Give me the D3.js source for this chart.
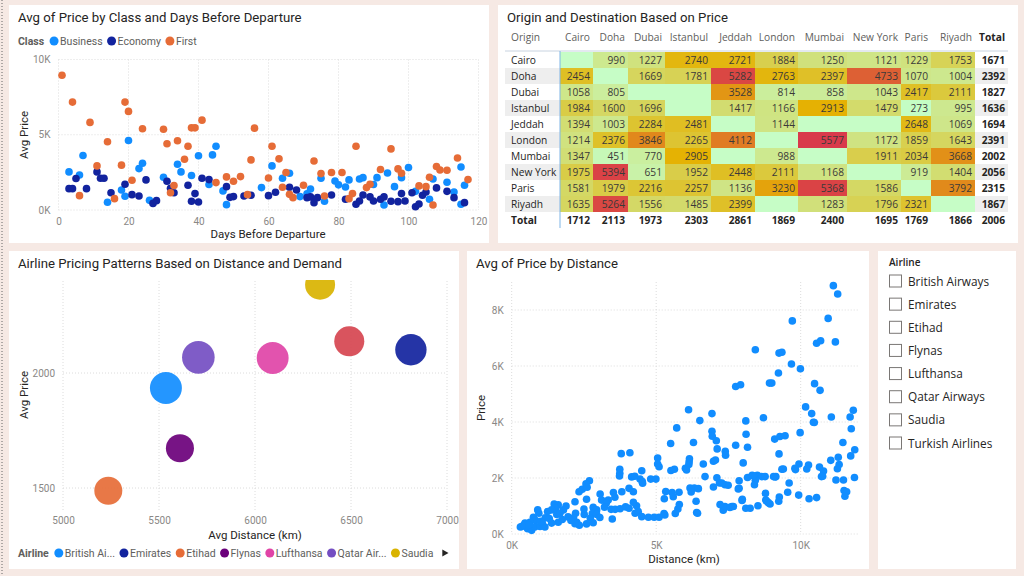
<!DOCTYPE html>
<html>
<head>
<meta charset="utf-8">
<script src="https://cdn.jsdelivr.net/npm/d3@7"></script>
<style>
body { margin: 0; background: #f6e9e4; }
svg { display: block; }
text { font-family: Roboto, "Open Sans", sans-serif; }
.seg text { font-family: "Open Sans", "Noto Sans", sans-serif; }
</style>
</head>
<body>
<svg id="dash" width="1024" height="576"></svg>
<script>
// ---- data: class scatter (days before departure, avg price)
var classNames = ["Business", "Economy", "First"];
var businessPts = [[3,2530],[6,2330],[7,3620],[20,4620],[23,2750],[24,3110],[18,1330],[19,910],[14,510],[30,2180],[34,3040],[35,2530],[38,2290],[40,3600],[44,3660],[45,4240],[43,1690],[47,1270],[48,355],[26,640],[58,1490],[61,2930],[64,2110],[66,2440],[69,890],[71,1070],[72,1400],[75,2110],[76,580],[79,1930],[80,1670],[82,1530],[83,2000],[86,2060],[87,2150],[90,1690],[91,2150],[94,2460],[93,330],[96,1550],[98,2150],[100,2820],[102,1240],[106,710],[107,2060],[111,1840],[113,1200],[115,380],[115,2860],[116,1640]];
var economyPts = [[3,1420],[4,1420],[5,2090],[8,1420],[11,2530],[12,2110],[13,2110],[15,1150],[19,1710],[21,1020],[23,930],[25,2000],[27,440],[28,620],[31,1910],[32,1440],[33,1150],[37,1640],[39,1090],[38,580],[40,530],[41,2110],[43,2020],[48,1550],[49,840],[50,890],[53,930],[55,980],[60,955],[62,1180],[66,1510],[68,1330],[71,820],[72,870],[73,490],[74,820],[78,1000],[82,710],[85,380],[86,600],[87,1000],[89,870],[90,600],[92,710],[93,870],[95,580],[97,555],[98,1090],[99,600],[101,1150],[102,220],[103,400],[104,980],[105,1200],[108,1470],[111,1240],[113,820],[116,490]];
var firstPts = [[1,8950],[4,7170],[9,5820],[14,4530],[11,2930],[19,7170],[20,6550],[18,2980],[21,1980],[6,955],[16,755],[24,5400],[30,5370],[31,4400],[34,4600],[37,4240],[36,3370],[33,1620],[32,1150],[38,5460],[39,5460],[41,5970],[48,2200],[50,1910],[52,2220],[55,3330],[56,5440],[54,1020],[45,1820],[60,2130],[61,4240],[63,3400],[65,2490],[64,1510],[66,1040],[67,820],[70,1640],[73,3260],[75,2420],[76,930],[78,2490],[81,2490],[83,755],[84,1090],[85,4240],[88,1490],[89,1710],[92,2690],[95,4060],[97,2730],[98,2440],[103,1600],[105,1550],[106,2180],[107,330],[108,2890],[109,2660],[111,2640],[114,3460],[117,2020]];
var classTicksY = [0, 5000, 10000];
var classTicksX = [0, 20, 40, 60, 80, 100, 120];

// ---- data: origin / destination matrix
var origins = ["Cairo","Doha","Dubai","Istanbul","Jeddah","London","Mumbai","New York","Paris","Riyadh"];
var destinations = ["Cairo","Doha","Dubai","Istanbul","Jeddah","London","Mumbai","New York","Paris","Riyadh"];
var priceMatrix = [
  [null, 990, 1227, 2740, 2721, 1884, 1250, 1121, 1229, 1753],
  [2454, null, 1669, 1781, 5282, 2763, 2397, 4733, 1070, 1004],
  [1058, 805, null, null, 3528, 814, 858, 1043, 2417, 2111],
  [1984, 1600, 1696, null, 1417, 1166, 2913, 1479, 273, 995],
  [1394, 1003, 2284, 2481, null, 1144, null, null, 2648, 1069],
  [1214, 2376, 3846, 2265, 4112, null, 5577, 1172, 1859, 1643],
  [1347, 451, 770, 2905, null, 988, null, 1911, 2034, 3668],
  [1975, 5394, 651, 1952, 2448, 2111, 1168, null, 919, 1404],
  [1581, 1979, 2216, 2257, 1136, 3230, 5368, 1586, null, 3792],
  [1635, 5264, 1556, 1485, 2399, null, 1283, 1796, 2321, null]
];
var rowTotals = [1671, 2392, 1827, 1636, 1694, 2391, 2002, 2056, 2315, 1867];
var colTotals = [1712, 2113, 1973, 2303, 2861, 1869, 2400, 1695, 1769, 1866];
var grandTotal = 2006;

// ---- data: airline bubbles
var airlines = ["British Airways","Emirates","Etihad","Flynas","Lufthansa","Qatar Airways","Saudia","Turkish Airlines"];
var airlineLegend = ["British Ai...","Emirates","Etihad","Flynas","Lufthansa","Qatar Air...","Saudia"];
var avgDistance = [5536, 6812, 5236, 5609, 6092, 5705, 6339, 6491];
var avgPrice = [1935, 2101, 1488, 1673, 2065, 2068, 2384, 2138];
var demand = [1280, 1230, 980, 985, 1275, 1330, 1125, 1130];
var bubbleTicksX = [5000, 5500, 6000, 6500, 7000];
var bubbleTicksY = [1500, 2000];

// ---- data: price by distance (km, price)
var distancePts = [
[11130,8870],[11280,8570],[10950,7700],[11200,6860],[10550,6810],[10690,6900],[10480,5370],[10670,5130],[10170,4540],[10380,4300],
[10440,3990],[10470,3980],[11060,4180],[11820,4420],[11710,4180],[11750,3760],[11460,3270],[11870,3010],[11730,2790],[11040,2630],
[11300,2740],[11330,2480],[11270,2330],[9980,3620],[9940,2500],[10270,2460],[10210,2320],[10650,2390],[10790,2250],[10720,2050],
[11220,1930],[11480,1930],[11860,2020],[11500,1550],[11590,1510],[11530,1350],[9930,1390],[10290,1260],[10550,1300],[9820,2300],
[9710,7610],[9990,5900],[9680,6070],[9250,6460],[9350,6490],[9230,5750],[8920,5390],[9000,5390],[8430,6580],[8710,4150],
[9100,3390],[9280,3480],[9460,3510],[9250,2860],[9350,2310],[9120,2040],[9600,1820],[9550,1490],[9260,1320],[9240,1170],
[8780,1450],[8790,1210],[8880,1120],[7750,5270],[7920,5330],[8100,4040],[8110,3560],[8160,3100],[7750,3170],[8010,2540],
[7870,1900],[8160,2020],[8320,2100],[8500,2100],[8650,2050],[8430,1920],[8400,1760],[7870,1630],[7970,1200],[8100,920],
[8250,920],[8520,1010],[7620,980],[7320,850],[7380,980],[7210,1050],[9140,2050],[9800,2350],[10760,2060],[9400,2320],
[6120,4440],[6930,4300],[6510,4050],[6930,3670],[6940,3490],[7080,3330],[7110,3040],[7390,2950],[7400,2810],[6290,3270],
[6150,2690],[6140,2580],[5500,3230],[5710,3790],[6010,2350],[6130,2480],[6980,2600],[7050,2640],[6630,2500],[6690,2050],
[7100,2010],[7190,1820],[7380,1760],[7490,1740],[6980,1680],[6170,1640],[6320,1640],[6460,1620],[6210,1500],[6380,1170],
[6400,770],[6430,740],[5800,1050],[5750,890],[5550,1480],[5790,1490],[5280,1260],[5330,1520],[5510,2270],[5630,2310],
[5050,2710],[5050,2500],[5100,2400],[4810,1960],[4990,1960],[5270,730],[5660,730],[4440,1960],[4530,1810],[4500,2260],
[4150,2040],[4260,2060],[3740,2310],[3740,2170],[3730,2070],[3790,2870],[4090,2900],[5300,680],[7550,950],[7670,980],
[8820,1180],[5590,1330],[6050,2290],[7270,1820],[8360,2080],[8770,2050],[7840,1610],[7980,1240],[8940,1070],[9060,2050],
[4520,1870],[2690,1900],[2570,1790],[2440,1600],[2610,1670],[2330,1510],[2590,1240],[3060,1430],[3340,1210],[3110,1210],
[3520,1480],[3810,1510],[4060,1630],[4210,1510],[3570,1310],[3270,1100],[3210,960],[3440,880],[3580,880],[3750,900],
[3940,970],[4060,920],[4320,1010],[4270,740],[4380,800],[4210,1130],[4500,620],[4730,600],[4930,600],[5100,600],
[3480,535],[2820,950],[2940,860],[2790,730],[2510,700],[2720,560],[2940,700],[3050,590],[2500,890],[2210,740],
[2190,1150],[1880,1000],[1790,860],[2140,580],[2250,420],[2340,310],[2190,370],[2590,360],[2820,400],[1610,1040],
[1470,1070],[1520,920],[1380,860],[1240,800],[1560,700],[1670,740],[900,860],[940,740],[1160,580],[1300,550],
[1610,420],[1380,390],[750,600],[830,480],[630,420],[460,390],[350,270],[300,250],[550,190],[690,130],
[800,250],[980,270],[1060,390],[1150,250],[1950,610],[2050,480],[1750,520],[420,320],[600,330],[1000,450]
];
var distTicksX = [0, 5000, 10000];
var distTicksY = [0, 2000, 4000, 6000, 8000];

var classColors = ["#118DFF", "#12239E", "#E66C37"];
var airlineColors = ["#118DFF","#12239E","#E66C37","#6B007B","#E044A7","#744EC2","#D9B300","#D64550"];

var svg = d3.select("#dash");
var fmtK = function(d) { return (d / 1000) + "K"; };

// page background + cards
svg.append("rect").attr("width", 1024).attr("height", 576).attr("fill", "#f6e9e4");
svg.append("line").attr("x1", 2).attr("x2", 2).attr("y1", 0).attr("y2", 576)
    .attr("stroke", "#666").attr("stroke-dasharray", "1,2");
var cards = [[9, 5, 480, 238], [498, 5, 520, 238], [9, 251, 450, 318], [467, 251, 402, 318], [878, 251, 138, 318]];
svg.selectAll("rect.card").data(cards).enter().append("rect")
    .classed("card", true)
    .attr("x", function(d) { return d[0]; }).attr("y", function(d) { return d[1]; })
    .attr("width", function(d) { return d[2]; }).attr("height", function(d) { return d[3]; })
    .attr("fill", "#fff");

function title(x, y, txt) {
    svg.append("text").attr("x", x).attr("y", y).attr("font-size", 13.2)
        .attr("fill", "#252423").text(txt);
}

function grid(g, xs, ys, x, y, ticksX, ticksY) {
    g.selectAll("line.gx").data(ticksX).enter().append("line")
        .attr("x1", x).attr("x2", x).attr("y1", ys[0]).attr("y2", ys[1])
        .attr("stroke", "#dcdcdc").attr("stroke-dasharray", "1,2");
    g.selectAll("line.gy").data(ticksY).enter().append("line")
        .attr("x1", xs[0]).attr("x2", xs[1]).attr("y1", y).attr("y2", y)
        .attr("stroke", "#dcdcdc").attr("stroke-dasharray", "1,2");
}

function legend(x, y, label, names, colors) {
    var g = svg.append("g");
    var t = g.append("text").attr("x", x).attr("y", y + 4).attr("font-size", 10.5)
        .attr("font-weight", "bold").attr("fill", "#605e5c").text(label);
    var cx = x + t.node().getComputedTextLength() + 10;
    names.forEach(function(n, i) {
        g.append("circle").attr("cx", cx).attr("cy", y).attr("r", 4.5).attr("fill", colors[i]);
        var tt = g.append("text").attr("x", cx + 6).attr("y", y + 4).attr("font-size", 10.5)
            .attr("fill", "#605e5c").text(n);
        cx += 6 + tt.node().getComputedTextLength() + 9;
    });
    return cx;
}

function axisTitle(g, x, y, txt, rot) {
    g.append("text").attr("transform", "translate(" + x + "," + y + ")" + (rot ? " rotate(-90)" : ""))
        .attr("text-anchor", "middle").attr("font-size", 11.5)
        .attr("fill", "#252423").text(txt);
}

// ===== 1. Avg of Price by Class and Days Before Departure
(function() {
    title(18, 22, "Avg of Price by Class and Days Before Departure");
    legend(18, 41, "Class", classNames, classColors);
    var x = d3.scaleLinear().domain([0, 120]).range([58.5, 478.5]);
    var y = d3.scaleLinear().domain([0, 10000]).range([210, 59.5]);
    var g = svg.append("g");
    grid(g, [58.5, 478.5], [59.5, 210], x, y, classTicksX, classTicksY);
    var ax = g.append("g").attr("transform", "translate(0,210)")
        .call(d3.axisBottom(x).tickValues(classTicksX).tickSize(0).tickPadding(8));
    var ay = g.append("g").attr("transform", "translate(58.5,0)")
        .call(d3.axisLeft(y).tickValues(classTicksY).tickFormat(fmtK).tickSize(0).tickPadding(8));
    [ax, ay].forEach(function(a) {
        a.select(".domain").remove();
        a.selectAll("text").attr("font-size", 10).attr("fill", "#8a8886")
            .attr("font-family", "Roboto, sans-serif");
    });
    axisTitle(g, 28, 135, "Avg Price", true);
    axisTitle(g, 268, 238, "Days Before Departure", false);
    [businessPts, economyPts, firstPts].forEach(function(pts, i) {
        g.append("g").selectAll("circle").data(pts).enter().append("circle")
            .attr("cx", function(d) { return x(d[0]); })
            .attr("cy", function(d) { return y(d[1]); })
            .attr("r", 3.8).attr("fill", classColors[i]);
    });
})();

// ===== 2. Origin and Destination matrix
(function() {
    title(507, 22, "Origin and Destination Based on Price");
    var colW = [33, 35, 37, 46, 44, 43, 49, 54, 30, 44, 33];
    var colX = [560];
    colW.forEach(function(w, i) { colX.push(colX[i] + w); });
    var rowY = d3.scaleBand().domain(d3.range(origins.length)).range([52, 212]);
    var color = d3.scaleLinear().domain([273, 2900, 5577])
        .range(["#c4fdc4", "#e5b203", "#d93a4b"]).interpolate(d3.interpolateRgb);
    var g = svg.append("g").classed("seg", true);
    var fs = 10.2;
    // header
    g.append("text").attr("x", 511).attr("y", 41).attr("font-size", fs).attr("fill", "#605e5c").text("Origin");
    g.selectAll("text.hd").data(destinations.concat(["Total"])).enter().append("text")
        .attr("x", function(d, i) { return colX[i + 1] - 3; }).attr("y", 41)
        .attr("text-anchor", "end").attr("font-size", fs)
        .attr("font-weight", function(d) { return d === "Total" ? "bold" : "normal"; })
        .attr("fill", function(d) { return d === "Total" ? "#252423" : "#605e5c"; })
        .text(function(d) { return d; });
    g.append("line").attr("x1", 505).attr("x2", 1008).attr("y1", 51).attr("y2", 51)
        .attr("stroke", "#c8d3e0");
    var rows = g.selectAll("g.row").data(priceMatrix).enter().append("g")
        .attr("transform", function(d, i) { return "translate(0," + rowY(i) + ")"; });
    rows.filter(function(d, i) { return i % 2 === 1; }).each(function() {
        d3.select(this).append("rect").attr("x", 505).attr("width", 55).attr("height", rowY.bandwidth()).attr("fill", "#eeeeee");
        d3.select(this).append("rect").attr("x", colX[10]).attr("width", colW[10]).attr("height", rowY.bandwidth()).attr("fill", "#eeeeee");
    });
    rows.append("text").attr("x", 511).attr("y", 12).attr("font-size", fs).attr("fill", "#252423")
        .text(function(d, i) { return origins[i]; });
    var cells = rows.selectAll("g.cell").data(function(d) { return d; }).enter().append("g");
    cells.append("rect")
        .attr("x", function(d, i) { return colX[i]; })
        .attr("width", function(d, i) { return colW[i]; })
        .attr("height", rowY.bandwidth())
        .attr("fill", function(d) { return d === null ? "#c6fdc6" : color(d); });
    cells.append("text")
        .attr("x", function(d, i) { return colX[i + 1] - 3; }).attr("y", 12)
        .attr("text-anchor", "end").attr("font-size", fs).attr("fill", "#3b3a39")
        .text(function(d) { return d === null ? "" : d; });
    rows.append("text").attr("x", colX[11] - 3).attr("y", 12).attr("text-anchor", "end")
        .attr("font-size", fs).attr("font-weight", "bold").attr("fill", "#252423")
        .text(function(d, i) { return rowTotals[i]; });
    // total row
    g.append("text").attr("x", 511).attr("y", 224).attr("font-size", fs).attr("font-weight", "bold")
        .attr("fill", "#252423").text("Total");
    g.selectAll("text.ct").data(colTotals.concat([grandTotal])).enter().append("text")
        .attr("x", function(d, i) { return colX[i + 1] - 3; }).attr("y", 224)
        .attr("text-anchor", "end").attr("font-size", fs).attr("font-weight", "bold").attr("fill", "#252423")
        .text(function(d) { return d; });
    g.append("line").attr("x1", 560).attr("x2", 560).attr("y1", 51).attr("y2", 228)
        .attr("stroke", "#7fb5e6");
})();

// ===== 3. Airline bubbles
(function() {
    title(18, 268, "Airline Pricing Patterns Based on Distance and Demand");
    var x = d3.scaleLinear().domain([5000, 7000]).range([63, 447]);
    var y = d3.scaleLinear().domain([1400, 2400]).range([511, 281]);
    var r = d3.scaleSqrt().domain([0, d3.max(demand)]).range([0, 16.3]);
    var g = svg.append("g");
    grid(g, [63, 447], [281, 511], x, y, bubbleTicksX, bubbleTicksY);
    var ax = g.append("g").attr("transform", "translate(0,511)")
        .call(d3.axisBottom(x).tickValues(bubbleTicksX).tickFormat(d3.format("d")).tickSize(0).tickPadding(6));
    var ay = g.append("g").attr("transform", "translate(58,0)")
        .call(d3.axisLeft(y).tickValues(bubbleTicksY).tickFormat(d3.format("d")).tickSize(0).tickPadding(3));
    [ax, ay].forEach(function(a) {
        a.select(".domain").remove();
        a.selectAll("text").attr("font-size", 10).attr("fill", "#8a8886").attr("font-family", "Roboto, sans-serif");
    });
    axisTitle(g, 28, 395, "Avg Price", true);
    axisTitle(g, 255, 539, "Avg Distance (km)", false);
    svg.append("clipPath").attr("id", "bclip").append("rect")
        .attr("x", 40).attr("y", 280).attr("width", 420).attr("height", 240);
    g.append("g").attr("clip-path", "url(#bclip)").selectAll("circle").data(airlines).enter().append("circle")
        .attr("cx", function(d, i) { return x(avgDistance[i]); })
        .attr("cy", function(d, i) { return y(avgPrice[i]); })
        .attr("r", function(d, i) { return r(demand[i]); })
        .attr("fill", function(d, i) { return airlineColors[i]; })
        .attr("fill-opacity", 0.92);
    var end = legend(18, 553, "Airline", airlineLegend, airlineColors);
    svg.append("path").attr("d", d3.symbol(d3.symbolTriangle, 22)())
        .attr("transform", "translate(" + Math.max(end + 2, 444) + ",553) rotate(90)").attr("fill", "#252423");
})();

// ===== 4. Avg of Price by Distance
(function() {
    title(476, 268, "Avg of Price by Distance");
    var x = d3.scaleLinear().domain([0, 12000]).range([511.7, 858.5]);
    var y = d3.scaleLinear().domain([0, 9000]).range([534, 282]);
    var g = svg.append("g");
    grid(g, [511.7, 858.5], [282, 534], x, y, distTicksX, distTicksY);
    var ax = g.append("g").attr("transform", "translate(0,534)")
        .call(d3.axisBottom(x).tickValues(distTicksX).tickFormat(fmtK).tickSize(0).tickPadding(8));
    var ay = g.append("g").attr("transform", "translate(511.7,0)")
        .call(d3.axisLeft(y).tickValues(distTicksY).tickFormat(fmtK).tickSize(0).tickPadding(8));
    [ax, ay].forEach(function(a) {
        a.select(".domain").remove();
        a.selectAll("text").attr("font-size", 10).attr("fill", "#8a8886").attr("font-family", "Roboto, sans-serif");
    });
    axisTitle(g, 485, 408, "Price", true);
    axisTitle(g, 684, 563, "Distance (km)", false);
    g.append("g").selectAll("circle").data(distancePts).enter().append("circle")
        .attr("cx", function(d) { return x(d[0]); })
        .attr("cy", function(d) { return y(d[1]); })
        .attr("r", 3.8).attr("fill", "#118DFF");
})();

// ===== 5. Airline slicer
(function() {
    var g = svg.append("g").classed("seg", true);
    g.append("text").attr("x", 889).attr("y", 266).attr("font-size", 10).attr("font-weight", 600)
        .attr("fill", "#252423").text("Airline");
    var y = d3.scalePoint().domain(airlines).range([281, 443]);
    var items = g.selectAll("g.item").data(airlines).enter().append("g")
        .attr("transform", function(d) { return "translate(889," + y(d) + ")"; });
    items.append("rect").attr("x", 0.5).attr("y", -6).attr("width", 12).attr("height", 12)
        .attr("fill", "#fff").attr("stroke", "#7a7775");
    items.append("text").attr("x", 19).attr("y", 4.5).attr("font-size", 11.8).attr("fill", "#252423")
        .text(function(d) { return d; });
})();
</script>
</body>
</html>
